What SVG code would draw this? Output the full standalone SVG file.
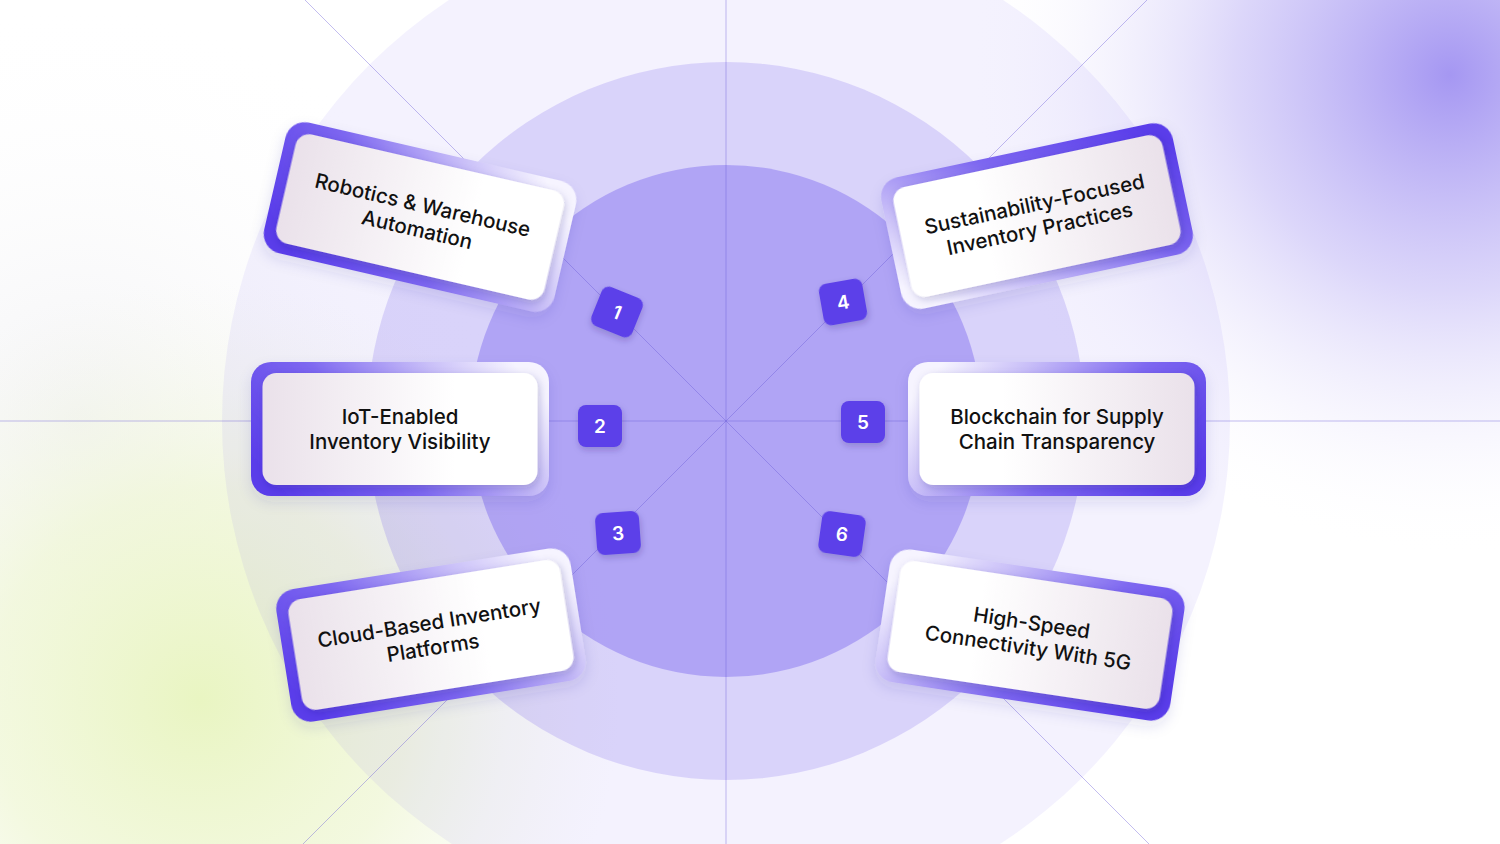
<svg xmlns="http://www.w3.org/2000/svg" width="1500" height="844" viewBox="0 0 1500 844">
<defs>
<style>
.lbl{font-family:Inter,"Noto Sans","Liberation Sans",sans-serif;font-size:20.5px;font-weight:500;fill:#111111;text-anchor:middle}
.num{font-family:Inter,"Noto Sans","Liberation Sans",sans-serif;font-size:19px;font-weight:600;fill:#ffffff;text-anchor:middle}
.badge{fill:#5b3fe9}
.axis{stroke:#6a5ad8;stroke-opacity:0.4;stroke-width:1;fill:none}
.back{filter:url(#shBack)}
.front{filter:url(#shFront)}
</style>
<radialGradient id="glowP" cx="1450" cy="75" r="480" gradientUnits="userSpaceOnUse">
<stop offset="0" stop-color="#a597f2" stop-opacity="1"/>
<stop offset="0.45" stop-color="#b9aef5" stop-opacity="0.5"/>
<stop offset="1" stop-color="#ffffff" stop-opacity="0"/>
</radialGradient>
<radialGradient id="glowG" cx="200" cy="700" r="420" gradientUnits="userSpaceOnUse">
<stop offset="0" stop-color="#e9f5c2" stop-opacity="1"/>
<stop offset="0.5" stop-color="#eef6d2" stop-opacity="0.7"/>
<stop offset="1" stop-color="#f6f8ee" stop-opacity="0"/>
</radialGradient>
<radialGradient id="glowGray" cx="80" cy="420" r="420" gradientUnits="userSpaceOnUse">
<stop offset="0" stop-color="#f3f3f5" stop-opacity="1"/>
<stop offset="1" stop-color="#ffffff" stop-opacity="0"/>
</radialGradient>
<linearGradient id="backL" x1="0" y1="0.7" x2="1" y2="0.3">
<stop offset="0" stop-color="#5a3eea"/>
<stop offset="0.4" stop-color="#7d67f0"/>
<stop offset="0.75" stop-color="#c9bff8"/>
<stop offset="1" stop-color="#f6f4ff"/>
</linearGradient>
<linearGradient id="backR" x1="1" y1="0.7" x2="0" y2="0.3">
<stop offset="0" stop-color="#5a3eea"/>
<stop offset="0.4" stop-color="#7d67f0"/>
<stop offset="0.75" stop-color="#c9bff8"/>
<stop offset="1" stop-color="#f6f4ff"/>
</linearGradient>
<linearGradient id="backRT" x1="1" y1="0.2" x2="0" y2="0.8">
<stop offset="0" stop-color="#5a3eea"/>
<stop offset="0.4" stop-color="#7d67f0"/>
<stop offset="0.75" stop-color="#c9bff8"/>
<stop offset="1" stop-color="#f6f4ff"/>
</linearGradient>
<linearGradient id="frontL" x1="0" y1="0" x2="1" y2="0">
<stop offset="0" stop-color="#eae1ea"/>
<stop offset="0.7" stop-color="#ffffff"/>
</linearGradient>
<linearGradient id="frontR" x1="1" y1="0" x2="0" y2="0">
<stop offset="0" stop-color="#eae1ea"/>
<stop offset="0.7" stop-color="#ffffff"/>
</linearGradient>
<filter id="shBack" x="-20%" y="-30%" width="140%" height="170%">
<feDropShadow dx="0" dy="6" stdDeviation="7" flood-color="#3b2a8f" flood-opacity="0.12"/>
</filter>
<filter id="shFront" x="-20%" y="-30%" width="140%" height="170%">
<feDropShadow dx="2" dy="3" stdDeviation="4" flood-color="#2c1f70" flood-opacity="0.22"/>
</filter>
<filter id="shBadge" x="-40%" y="-40%" width="180%" height="190%">
<feDropShadow dx="1" dy="3" stdDeviation="3" flood-color="#2c1f70" flood-opacity="0.25"/>
</filter>
</defs>

<g id="background">
<rect x="0" y="0" width="1500" height="844" fill="#ffffff"/>
<rect x="0" y="0" width="1500" height="844" fill="url(#glowGray)"/>
<rect x="0" y="0" width="1500" height="844" fill="url(#glowG)"/>
<rect x="0" y="0" width="1500" height="844" fill="url(#glowP)"/>
<circle cx="726" cy="421" r="504" fill="#7c66ee" fill-opacity="0.085"/>
<circle cx="726" cy="421" r="359" fill="#7c66ee" fill-opacity="0.225"/>
<circle cx="726" cy="421" r="256" fill="#7c66ee" fill-opacity="0.43"/>
</g>

<g id="connectors">
<line class="axis" x1="726" y1="0" x2="726" y2="844"/>
<line class="axis" x1="0" y1="421" x2="1500" y2="421"/>
<line class="axis" x1="305" y1="0" x2="1149" y2="844"/>
<line class="axis" x1="1147" y1="0" x2="303" y2="844"/>
</g>

<g id="card1" transform="translate(420,217) rotate(13)">
<rect class="back" x="-149" y="-67" width="298" height="134" rx="20" fill="url(#backL)"/>
<rect class="front" x="-137.5" y="-56" width="275" height="112" rx="14" fill="url(#frontL)"/>
<text class="lbl" y="-5">Robotics &amp; Warehouse</text>
<text class="lbl" y="20">Automation</text>
</g>

<g id="card2" transform="translate(400,429)">
<rect class="back" x="-149" y="-67" width="298" height="134" rx="20" fill="url(#backL)"/>
<rect class="front" x="-137.5" y="-56" width="275" height="112" rx="14" fill="url(#frontL)"/>
<text class="lbl" y="-5">IoT-Enabled</text>
<text class="lbl" y="20">Inventory Visibility</text>
</g>

<g id="card3" transform="translate(431,635) rotate(-9)">
<rect class="back" x="-149" y="-67" width="298" height="134" rx="20" fill="url(#backL)"/>
<rect class="front" x="-137.5" y="-56" width="275" height="112" rx="14" fill="url(#frontL)"/>
<text class="lbl" y="-5">Cloud-Based Inventory</text>
<text class="lbl" y="20">Platforms</text>
</g>

<g id="card4" transform="translate(1037,216) rotate(-12)">
<rect class="back" x="-149" y="-67" width="298" height="134" rx="20" fill="url(#backRT)"/>
<rect class="front" x="-137.5" y="-56" width="275" height="112" rx="14" fill="url(#frontR)"/>
<text class="lbl" y="-5">Sustainability-Focused</text>
<text class="lbl" y="20">Inventory Practices</text>
</g>

<g id="card5" transform="translate(1057,429)">
<rect class="back" x="-149" y="-67" width="298" height="134" rx="20" fill="url(#backR)"/>
<rect class="front" x="-137.5" y="-56" width="275" height="112" rx="14" fill="url(#frontR)"/>
<text class="lbl" y="-5">Blockchain for Supply</text>
<text class="lbl" y="20">Chain Transparency</text>
</g>

<g id="card6" transform="translate(1030,635) rotate(8.5)">
<rect class="back" x="-149" y="-67" width="298" height="134" rx="20" fill="url(#backR)"/>
<rect class="front" x="-137.5" y="-56" width="275" height="112" rx="14" fill="url(#frontR)"/>
<text class="lbl" y="-5">High-Speed</text>
<text class="lbl" y="20">Connectivity With 5G</text>
</g>

<g id="badge1" transform="translate(617,312) rotate(22)">
<rect class="badge" x="-22" y="-21" width="44" height="42" rx="8" filter="url(#shBadge)"/>
<text class="num" y="7">1</text>
</g>
<g id="badge2" transform="translate(600,426)">
<rect class="badge" x="-22" y="-21" width="44" height="42" rx="8" filter="url(#shBadge)"/>
<text class="num" y="7">2</text>
</g>
<g id="badge3" transform="translate(618,533) rotate(-4)">
<rect class="badge" x="-22" y="-21" width="44" height="42" rx="8" filter="url(#shBadge)"/>
<text class="num" y="7">3</text>
</g>
<g id="badge4" transform="translate(843,302) rotate(-10)">
<rect class="badge" x="-22" y="-21" width="44" height="42" rx="8" filter="url(#shBadge)"/>
<text class="num" y="7">4</text>
</g>
<g id="badge5" transform="translate(863,422)">
<rect class="badge" x="-22" y="-21" width="44" height="42" rx="8" filter="url(#shBadge)"/>
<text class="num" y="7">5</text>
</g>
<g id="badge6" transform="translate(842,534) rotate(8)">
<rect class="badge" x="-22" y="-21" width="44" height="42" rx="8" filter="url(#shBadge)"/>
<text class="num" y="7">6</text>
</g>
</svg>
